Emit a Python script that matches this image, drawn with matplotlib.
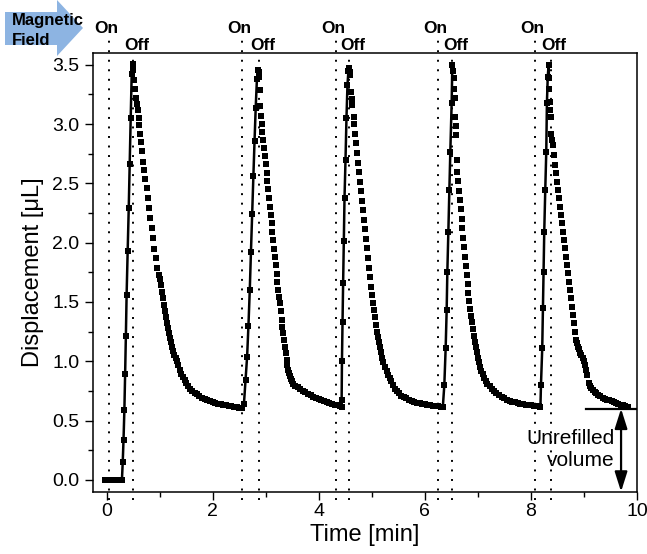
# Magnetic actuation: displacement vs time, five on/off cycles
import numpy as np
import matplotlib
matplotlib.use("Agg")
import matplotlib.pyplot as plt
from matplotlib.patches import Polygon
from matplotlib.ticker import MultipleLocator

plt.rcParams['font.family'] = ['Liberation Sans', 'DejaVu Sans']

# field switched on / off [min]
t_on = [0.05, 2.56, 4.32, 6.25, 8.07]
t_off = [0.49, 2.87, 4.57, 6.52, 8.37]

# cycle 1 (baseline + rise, then relaxation)
t_rise1 = [-0.02, 0.02, 0.06, 0.10, 0.14, 0.18, 0.22, 0.26, 0.29,
           0.305, 0.32, 0.336, 0.350, 0.364, 0.378, 0.398, 0.418, 0.436, 0.455, 0.474, 0.490]
v_rise1 = [0, 0, 0, 0, 0, 0, 0, 0, 0,
           0.15, 0.34, 0.59, 0.89, 1.21, 1.56, 1.93, 2.29, 2.66, 3.05, 3.42, 3.51]
t_fall1 = [0.505, 0.524, 0.537, 0.556, 0.572, 0.587, 0.606, 0.618, 0.631, 0.650,
           0.669, 0.694, 0.712, 0.731, 0.756, 0.775, 0.807, 0.826, 0.851, 0.869,
           0.901, 0.926, 0.957, 0.98,
           1.00, 1.02, 1.04, 1.06, 1.08, 1.10, 1.12, 1.14, 1.16, 1.18, 1.20, 1.22, 1.24,
           1.26, 1.28, 1.30, 1.32, 1.35, 1.38, 1.41, 1.44, 1.47, 1.50, 1.54, 1.58, 1.62,
           1.66, 1.70, 1.75, 1.80, 1.85, 1.90, 1.95, 2.00, 2.05, 2.10, 2.15, 2.20, 2.25,
           2.30, 2.35, 2.40, 2.45, 2.50, 2.55]
v_fall1 = [3.46, 3.37, 3.30, 3.22, 3.17, 3.12, 3.05, 2.99, 2.92, 2.85,
           2.77, 2.68, 2.61, 2.54, 2.46, 2.38, 2.29, 2.21, 2.12, 2.04,
           1.95, 1.87, 1.79, 1.73,
           1.69, 1.64, 1.58, 1.53, 1.475, 1.42, 1.37, 1.32, 1.28, 1.24, 1.20, 1.16, 1.12,
           1.09, 1.055, 1.025, 1.00, 0.965, 0.93, 0.895, 0.865, 0.84, 0.815, 0.79, 0.765, 0.75,
           0.735, 0.72, 0.705, 0.69, 0.68, 0.672, 0.663, 0.655, 0.648, 0.642, 0.636, 0.631, 0.627,
           0.623, 0.619, 0.615, 0.611, 0.608, 0.605]

# cycle 2
t_rise2 = [2.59, 2.62, 2.65, 2.675, 2.70, 2.722, 2.745, 2.768, 2.79, 2.812, 2.835, 2.862]
v_rise2 = [0.64, 0.84, 1.04, 1.30, 1.60, 1.92, 2.24, 2.56, 2.86, 3.14, 3.38, 3.46]
t_fall2 = [2.87, 2.878, 2.89, 2.90, 2.91, 2.922, 2.937, 2.953, 2.969, 2.985,
           3.0, 3.016, 3.032, 3.048, 3.063, 3.079, 3.095, 3.11, 3.126, 3.142,
           3.158, 3.173, 3.189, 3.205, 3.22, 3.236, 3.252, 3.267, 3.283, 3.299,
           3.315, 3.33, 3.346, 3.362, 3.378, 3.393, 3.409, 3.424, 3.44, 3.456,
           3.472, 3.487,
           3.52, 3.56, 3.60, 3.65, 3.70, 3.75, 3.80, 3.85, 3.90, 3.95, 4.00, 4.05,
           4.10, 4.15, 4.20, 4.25, 4.30, 4.35, 4.40, 4.43]
v_fall2 = [3.44, 3.40, 3.29, 3.15, 3.07, 3.00, 2.935, 2.87, 2.80, 2.73,
           2.66, 2.585, 2.52, 2.45, 2.38, 2.305, 2.235, 2.165, 2.09, 2.02,
           1.95, 1.88, 1.81, 1.74, 1.67, 1.60, 1.545, 1.49, 1.42, 1.35,
           1.29, 1.236, 1.18, 1.124, 1.07, 1.012, 0.97, 0.928, 0.90, 0.872,
           0.85, 0.83,
           0.81, 0.795, 0.782, 0.767, 0.753, 0.737, 0.724, 0.713, 0.702, 0.691, 0.681, 0.672,
           0.663, 0.656, 0.648, 0.641, 0.634, 0.628, 0.622, 0.618]

# cycle 3
t_rise3 = [4.432, 4.438, 4.449, 4.46, 4.473, 4.486, 4.505, 4.523, 4.542, 4.56, 4.573]
v_rise3 = [0.675, 1.0, 1.335, 1.66, 2.01, 2.375, 2.70, 3.05, 3.33, 3.45, 3.47]
t_fall3 = [4.585, 4.598, 4.61, 4.623, 4.636, 4.66,
           4.673, 4.69, 4.708, 4.726, 4.744, 4.762, 4.78, 4.798, 4.816, 4.834,
           4.852, 4.87, 4.888, 4.906, 4.924, 4.942, 4.96, 4.98,
           5.0, 5.02, 5.04, 5.06, 5.08, 5.10, 5.12, 5.14, 5.16, 5.18, 5.20, 5.22,
           5.25, 5.28, 5.31, 5.34, 5.37, 5.40, 5.44, 5.48, 5.52, 5.56, 5.60,
           5.65, 5.70, 5.75, 5.80, 5.85, 5.90, 5.95, 6.00, 6.05, 6.10, 6.15, 6.20,
           6.25, 6.30, 6.34]
v_fall3 = [3.44, 3.415, 3.27, 3.21, 3.16, 3.06,
           3.00, 2.92, 2.84, 2.755, 2.675, 2.595, 2.515, 2.435, 2.355, 2.275,
           2.195, 2.115, 2.035, 1.955, 1.87, 1.79, 1.71, 1.63,
           1.56, 1.495, 1.43, 1.37, 1.305, 1.25, 1.205, 1.16, 1.12, 1.08, 1.03, 0.99,
           0.955, 0.915, 0.882, 0.855, 0.83, 0.80, 0.768, 0.748, 0.728, 0.71, 0.698,
           0.686, 0.676, 0.667, 0.659, 0.652, 0.646, 0.641, 0.636, 0.632, 0.628, 0.625, 0.622,
           0.619, 0.617, 0.615]

# cycle 4
t_rise4 = [6.368, 6.393, 6.412, 6.425, 6.444, 6.463, 6.481, 6.506, 6.519]
v_rise4 = [0.80, 1.11, 1.43, 1.756, 2.094, 2.445, 2.768, 3.176, 3.50]
t_fall4 = [6.532, 6.544, 6.55, 6.563, 6.569, 6.58, 6.588,
           6.60, 6.613, 6.628, 6.645, 6.662, 6.678, 6.694, 6.71, 6.726, 6.742,
           6.758, 6.774, 6.79, 6.806, 6.822, 6.838, 6.855, 6.872, 6.89, 6.908,
           6.926, 6.944, 6.962, 6.98, 7.00, 7.02, 7.04, 7.065, 7.09, 7.12,
           7.15, 7.18, 7.22, 7.26, 7.30,
           7.35, 7.40, 7.45, 7.50, 7.55, 7.60, 7.65, 7.70, 7.75, 7.80, 7.85, 7.90,
           7.95, 8.00, 8.05, 8.10, 8.15, 8.18]
v_fall4 = [3.45, 3.39, 3.30, 3.22, 3.06, 2.98, 2.91,
           2.70, 2.60, 2.52, 2.44, 2.36, 2.28, 2.20, 2.12, 2.04, 1.96,
           1.88, 1.80, 1.725, 1.65, 1.575, 1.51, 1.44, 1.385, 1.33, 1.27,
           1.215, 1.165, 1.12, 1.075, 1.03, 0.99, 0.955, 0.92, 0.89, 0.86,
           0.835, 0.812, 0.79, 0.762, 0.745,
           0.728, 0.712, 0.698, 0.687, 0.677, 0.668, 0.66, 0.653, 0.647, 0.642, 0.637, 0.633,
           0.63, 0.627, 0.624, 0.622, 0.62, 0.618]

# cycle 5
t_rise5 = [8.19, 8.214, 8.227, 8.239, 8.252, 8.271, 8.29, 8.302, 8.318, 8.334]
v_rise5 = [0.80, 1.11, 1.447, 1.756, 2.094, 2.445, 2.768, 3.176, 3.40, 3.50]
t_fall5 = [8.34, 8.346, 8.352, 8.36, 8.371,
           8.384, 8.40, 8.415, 8.434, 8.459, 8.478, 8.497, 8.516, 8.529, 8.548,
           8.566, 8.585, 8.604, 8.623, 8.642, 8.66, 8.679, 8.698, 8.717, 8.736,
           8.755, 8.774, 8.792, 8.811, 8.83, 8.855, 8.87, 8.887, 8.905, 8.931,
           8.95, 8.981, 9.00, 9.025, 9.043, 9.056,
           9.087, 9.11, 9.137, 9.17, 9.20, 9.231, 9.27, 9.31, 9.357, 9.40,
           9.44, 9.482, 9.52, 9.56, 9.608, 9.65, 9.69, 9.733, 9.78, 9.827]
v_fall5 = [3.39, 3.30, 3.19, 3.12, 3.06,
           2.92, 2.87, 2.825, 2.74, 2.655, 2.585, 2.515, 2.445, 2.375, 2.305,
           2.235, 2.164, 2.094, 2.024, 1.953, 1.883, 1.813, 1.743, 1.672, 1.602,
           1.532, 1.461, 1.391, 1.321, 1.25, 1.18, 1.15, 1.124, 1.10, 1.068,
           1.05, 1.025, 1.0, 0.969, 0.927, 0.885,
           0.815, 0.79, 0.773, 0.755, 0.742, 0.731, 0.718, 0.706, 0.694, 0.685,
           0.677, 0.669, 0.662, 0.655, 0.646, 0.64, 0.634, 0.627, 0.622, 0.618]

# unrefilled volume marker
t_unref = [9.04, 10.0]
v_unref = 0.60
t_arrow = 9.70

rises = [(t_rise1, v_rise1), (t_rise2, v_rise2), (t_rise3, v_rise3),
         (t_rise4, v_rise4), (t_rise5, v_rise5)]
falls = [(t_fall1, v_fall1), (t_fall2, v_fall2), (t_fall3, v_fall3),
         (t_fall4, v_fall4), (t_fall5, v_fall5)]

fig = plt.figure(figsize=(6.47, 5.54), dpi=100)
ax = fig.add_axes([0.1442, 0.1125, 0.8403, 0.7919])
ax.set_xlim(-0.25, 10.0)
ax.set_ylim(-0.10, 3.60)

# on/off dotted lines + labels
dots = (0, (1, 3.9))
for x in t_on:
    ax.plot([x, x], [-0.17, 3.71], color='k', lw=1.4, ls=dots, clip_on=False, zorder=1)
    ax.text(x - 0.05, 3.81, "On", ha='center', va='center', fontsize=12.5,
            fontweight='bold', clip_on=False)
for x in t_off:
    ax.plot([x, x], [-0.17, 3.60], color='k', lw=1.4, ls=dots, clip_on=False, zorder=1)
    ax.text(x + 0.07, 3.66, "Off", ha='center', va='center', fontsize=12.5,
            fontweight='bold', clip_on=False)

# data: rises drawn as line+symbol, relaxation as symbols only
ms = 4.8
prev = None
for (tr, vr), (tf, vf) in zip(rises, falls):
    tl, vl = list(tr), list(vr)
    if prev is not None:
        tl = [prev[0]] + tl
        vl = [prev[1]] + vl
    ax.plot(tl + [tf[0]], vl + [vf[0]], color='k', lw=1.8, zorder=3)
    ax.plot(tr, vr, 's', color='k', ms=ms, mew=0, zorder=4)
    ax.plot(tf, vf, 's', color='k', ms=ms, mew=0, zorder=4)
    prev = (tf[-1], vf[-1])

# unrefilled volume
ax.plot(t_unref, [v_unref, v_unref], color='k', lw=1.6, zorder=3)
ax.annotate('', xy=(t_arrow, -0.10), xytext=(t_arrow, v_unref), annotation_clip=False,
            arrowprops=dict(arrowstyle='<|-|>,head_length=1.2,head_width=0.38',
                            mutation_scale=10, lw=1.6, color='k', shrinkA=0, shrinkB=0))
ax.text(9.57, 0.255, "Unrefilled\nvolume", ha='right', va='center', fontsize=15,
        multialignment='right', linespacing=1.25)

ax.xaxis.set_major_locator(MultipleLocator(2))
ax.xaxis.set_minor_locator(MultipleLocator(1))
ax.yaxis.set_major_locator(MultipleLocator(0.5))
ax.yaxis.set_minor_locator(MultipleLocator(0.25))
ax.tick_params(which='major', direction='out', length=5.5, width=1, labelsize=14)
ax.tick_params(which='minor', direction='out', length=3.5, width=1)
ax.tick_params(axis='x', pad=2.5)
ax.tick_params(axis='y', pad=4.5)
for s in ax.spines.values():
    s.set_linewidth(1.1)

ax.set_xlabel("Time [min]", fontsize=17, labelpad=3)
ax.set_ylabel("Displacement [μL]", fontsize=17, labelpad=6)

# "Magnetic Field" arrow badge
W, H = 647.0, 554.0
pts = [(5, 12), (57, 12), (57, 0), (83, 28), (57, 56), (57, 45), (5, 45)]
fig.add_artist(Polygon([(x / W, 1 - y / H) for x, y in pts], closed=True,
                       transform=fig.transFigure, facecolor='#8db4e2', edgecolor='none'))
fig.text(12 / W, 1 - 25 / H, "Magnetic", fontsize=12, fontweight='bold', va='baseline')
fig.text(12 / W, 1 - 45 / H, "Field", fontsize=12, fontweight='bold', va='baseline')

fig.savefig("out.png", dpi=100)
